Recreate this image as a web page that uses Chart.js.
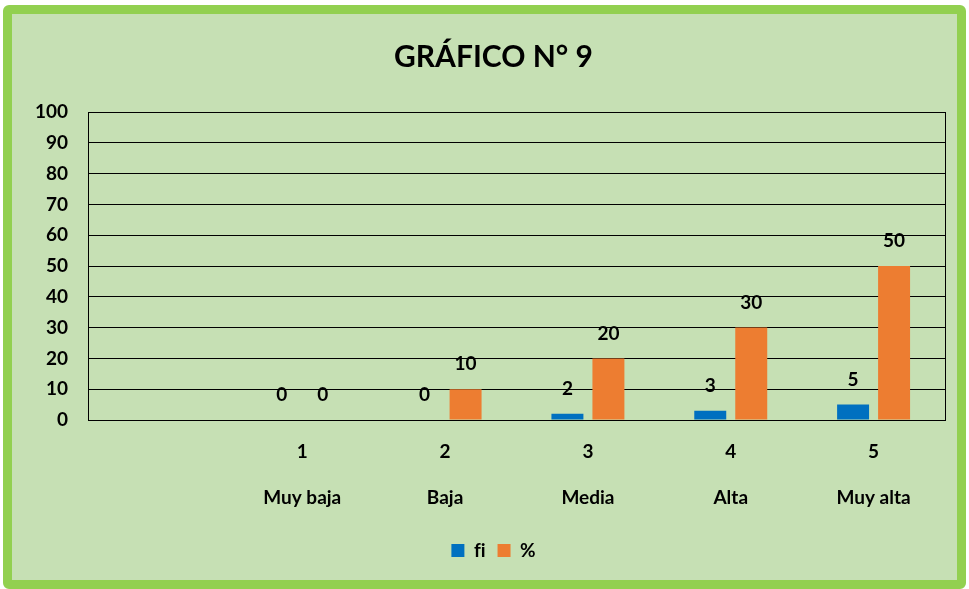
<!DOCTYPE html>
<html>
<head>
<meta charset="utf-8">
<script src="https://cdn.jsdelivr.net/npm/chart.js@4.4.1/dist/chart.umd.min.js"></script>
<style>
  body { margin: 0; background: #ffffff; }
  #frame {
    position: absolute; left: 3px; top: 5px;
    width: 945px; height: 566px;
    border: 9px solid #92D050; border-radius: 6px;
    background: #C6E0B4;
  }
  #wrap { position: absolute; left: 0; top: 0; width: 945px; height: 566px; }
</style>
</head>
<body>
<div id="frame"><div id="wrap"><canvas id="grafico"></canvas></div></div>
<script>
// datos del grafico
let numeros = ['', '1', '2', '3', '4', '5'];
let niveles = ['', 'Muy baja', 'Baja', 'Media', 'Alta', 'Muy alta'];
let fi = [null, 0, 0, 2, 3, 5];
let porcentaje = [null, 0, 10, 20, 30, 50];
let yTicks = [0, 10, 20, 30, 40, 50, 60, 70, 80, 90, 100];

let fuente = 'Lato, "Open Sans", sans-serif';

// etiquetas de valor sobre cada barra
var etiquetas = {
    id: 'etiquetas',
    afterDatasetsDraw(chart) {
        let c = chart.ctx;
        c.save();
        c.font = 'bold 19px ' + fuente;
        c.fillStyle = '#000';
        c.textAlign = 'center';
        c.textBaseline = 'middle';
        chart.data.datasets.forEach(function(ds, i) {
            chart.getDatasetMeta(i).data.forEach(function(bar, j) {
                if (ds.data[j] === null) return;
                c.fillText(String(ds.data[j]), bar.x, bar.y - 25);
            });
        });
        c.restore();
    }
};

// borde derecho del area de trazado
var borde = {
    id: 'borde',
    afterDraw(chart) {
        let a = chart.chartArea;
        let c = chart.ctx;
        c.save();
        c.strokeStyle = '#000';
        c.lineWidth = 1;
        c.beginPath();
        c.moveTo(Math.round(a.right) + 0.5, a.top);
        c.lineTo(Math.round(a.right) + 0.5, a.bottom);
        c.stroke();
        c.restore();
    }
};

// titulo y leyenda un poco a la derecha, como en el original
var centrar = {
    id: 'centrar',
    afterLayout(chart) {
        [chart.titleBlock, chart.legend].forEach(function(b) {
            if (!b) return;
            b.left += 30;
            b.right += 0;
        });
    }
};

var ctx = document.getElementById('grafico').getContext('2d');
var chart = new Chart(ctx, {
    type: 'bar',
    data: {
        labels: numeros.map(function(n, i) { return [n, niveles[i]]; }),
        datasets: [{
            label: 'f\u200Ci',
            backgroundColor: '#0070C0',
            data: fi
        }, {
            label: '%',
            backgroundColor: '#ED7D31',
            data: porcentaje
        }]
    },
    options: {
        responsive: true,
        maintainAspectRatio: false,
        animation: false,
        datasets: {
            bar: { categoryPercentage: 0.574, barPercentage: 0.78 }
        },
        layout: { padding: { left: 0, right: 12, top: 0, bottom: 10 } },
        plugins: {
            title: {
                display: true,
                text: 'GRÁFICO N° 9',
                color: '#000',
                font: { family: fuente, size: 30, weight: 'bold' },
                padding: { top: 25, bottom: 37 }
            },
            legend: {
                position: 'bottom',
                labels: {
                    color: '#000',
                    boxWidth: 13,
                    boxHeight: 13,
                    padding: 12,
                    font: { family: fuente, size: 19, weight: 'bold' }
                }
            },
            tooltip: { enabled: false }
        },
        scales: {
            x: {
                grid: { display: false },
                border: { color: '#000', width: 1 },
                ticks: {
                    color: '#000',
                    padding: 1,
                    maxRotation: 0,
                    autoSkip: false,
                    font: { family: fuente, size: 19, weight: 'bold', lineHeight: 2.4 }
                },
                afterFit(scale) { scale.height = 109; }
            },
            y: {
                min: 0,
                max: 100,
                afterBuildTicks(scale) { scale.ticks = yTicks.map(function(v) { return { value: v }; }); },
                grid: { color: '#000', lineWidth: 1, drawTicks: false },
                border: { color: '#000', width: 1 },
                ticks: {
                    color: '#000',
                    padding: 20,
                    font: { family: fuente, size: 19, weight: 'bold' }
                },
                afterFit(scale) { scale.width = 76; }
            }
        }
    },
    plugins: [etiquetas, borde, centrar]
});
</script>
</body>
</html>
